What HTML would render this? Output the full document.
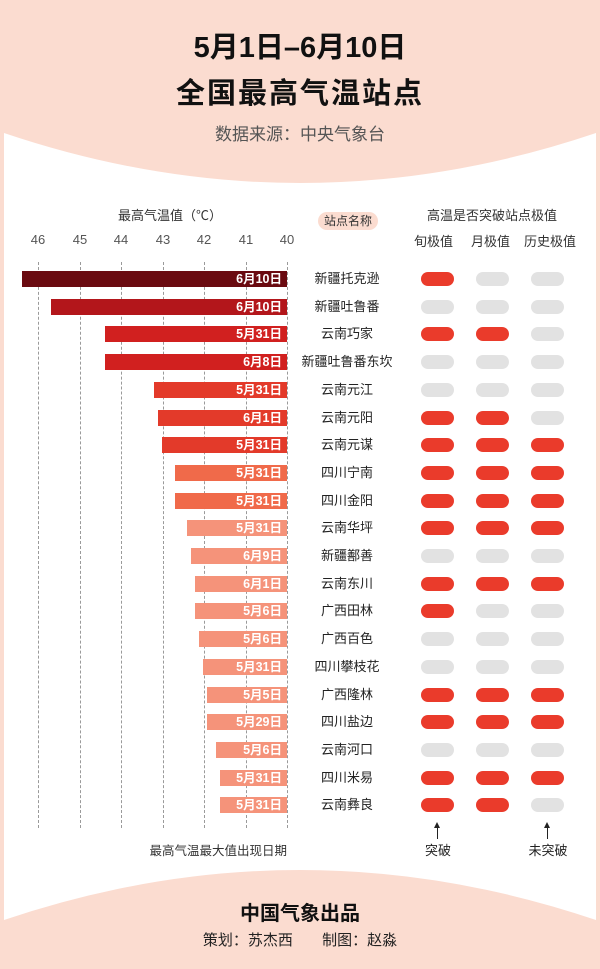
<!DOCTYPE html>
<html style="margin:0;width:600px;height:969px;overflow:hidden"><head><meta charset="utf-8"><style>
body{margin:0;width:600px;height:969px;background:#fbdcd0;position:relative;overflow:hidden;font-family:"Liberation Sans","Noto Sans CJK SC",sans-serif;}
.a{position:absolute;}
.t{position:absolute;white-space:nowrap;}
.bar{position:absolute;height:16px;}
.bar span{position:absolute;right:5px;top:0;line-height:16px;color:#fff;font-weight:bold;font-size:12.5px;}
.nm{position:absolute;width:110px;left:292px;text-align:center;font-size:13px;color:#222;line-height:16px;}
.p{position:absolute;width:33px;height:14px;border-radius:7px;}
.R{background:#ea3b2b}.G{background:#e2e2e2}
.g{position:absolute;top:262px;height:566px;border-left:1px dashed #9a9a9a;}
</style></head><body>
<svg class="a" style="left:0;top:0" width="600" height="969"><path d="M4 133 Q300 233 596 133 L596 920 Q300 820 4 920 Z" fill="#fff"/></svg>
<div class="t" style="left:0;width:600px;text-align:center;top:30px;font-size:29px;font-weight:bold;color:#111;line-height:36px">5月1日–6月10日</div>
<div class="t" style="left:0;width:600px;text-align:center;top:76px;font-size:29px;font-weight:bold;color:#111;line-height:36px;letter-spacing:2px">全国最高气温站点</div>
<div class="t" style="left:0;width:600px;text-align:center;top:124px;font-size:17px;color:#555;line-height:22px">数据来源：中央气象台</div>

<div class="t" style="left:100px;width:140px;text-align:center;top:205px;font-size:13px;color:#333">最高气温值（℃）</div>
<div class="t" style="left:318px;top:212px;width:60px;height:18px;border-radius:9px;background:#fbdcd0;text-align:center;font-size:12px;line-height:18px;color:#333">站点名称</div>
<div class="t" style="left:412px;width:160px;text-align:center;top:205px;font-size:13px;color:#333">高温是否突破站点极值</div>
<div class="t" style="left:414px;top:231px;font-size:13px;color:#333">旬极值</div>
<div class="t" style="left:471px;top:231px;font-size:13px;color:#333">月极值</div>
<div class="t" style="left:524px;top:231px;font-size:13px;color:#333">历史极值</div>
<div id="ax"></div>
<div class="t" style="left:100px;width:187px;text-align:right;top:840px;font-size:12.5px;color:#333">最高气温最大值出现日期</div>
<div class="a" style="left:437px;top:826px;width:1px;height:13px;background:#222"></div>
<div class="a" style="left:434px;top:822px;border-left:3.5px solid transparent;border-right:3.5px solid transparent;border-bottom:6px solid #222"></div>
<div class="a" style="left:547px;top:826px;width:1px;height:13px;background:#222"></div>
<div class="a" style="left:544px;top:822px;border-left:3.5px solid transparent;border-right:3.5px solid transparent;border-bottom:6px solid #222"></div>
<div class="t" style="left:413px;width:50px;text-align:center;top:840px;font-size:13px;color:#222">突破</div>
<div class="t" style="left:518px;width:60px;text-align:center;top:840px;font-size:13px;color:#222">未突破</div>
<div class="t" style="left:0;width:600px;text-align:center;top:897px;font-size:20px;font-weight:bold;color:#111">中国气象出品</div>
<div class="t" style="left:0;width:600px;text-align:center;top:929px;font-size:15px;color:#222">策划：苏杰西&nbsp;&nbsp;&nbsp;&nbsp;&nbsp;&nbsp;&nbsp;制图：赵淼</div>
<script>
var ax=document.getElementById('ax'),h='';
var tx=[38,80,121,163,204,246,287];
for(var i=0;i<7;i++){h+='<div class="g" style="left:'+tx[i]+'px"></div><div class="t" style="left:'+(tx[i]-15)+'px;width:30px;text-align:center;top:232px;font-size:13px;color:#555">'+(46-i)+'</div>';}
var d=[[22,'#6a0a10','6月10日','新疆托克逊','RGG'],[51,'#b3161b','6月10日','新疆吐鲁番','GGG'],[105,'#d1201f','5月31日','云南巧家','RRG'],[105,'#d1201f','6月8日','新疆吐鲁番东坎','GGG'],[154,'#e33a2a','5月31日','云南元江','GGG'],[158,'#e33a2a','6月1日','云南元阳','RRG'],[162,'#e33a2a','5月31日','云南元谋','RRR'],[175,'#f06a4a','5月31日','四川宁南','RRR'],[175,'#f06a4a','5月31日','四川金阳','RRR'],[187,'#f5937a','5月31日','云南华坪','RRR'],[191,'#f5937a','6月9日','新疆鄯善','GGG'],[195,'#f5937a','6月1日','云南东川','RRR'],[195,'#f5937a','5月6日','广西田林','RGG'],[199,'#f5937a','5月6日','广西百色','GGG'],[203,'#f5937a','5月31日','四川攀枝花','GGG'],[207,'#f5937a','5月5日','广西隆林','RRR'],[207,'#f5937a','5月29日','四川盐边','RRR'],[216,'#f5937a','5月6日','云南河口','GGG'],[220,'#f5937a','5月31日','四川米易','RRR'],[220,'#f5937a','5月31日','云南彝良','RRG']];
var px=[421,476,531];
for(var j=0;j<20;j++){var y=271+j*27.7,r=d[j];
h+='<div class="bar" style="left:'+r[0]+'px;width:'+(287-r[0])+'px;top:'+y+'px;background:'+r[1]+'"><span>'+r[2]+'</span></div>';
h+='<div class="nm" style="top:'+y+'px">'+r[3]+'</div>';
for(var k=0;k<3;k++)h+='<div class="p '+r[4][k]+'" style="left:'+px[k]+'px;top:'+(y+1)+'px"></div>';}
ax.innerHTML=h;
</script>
</body></html>
